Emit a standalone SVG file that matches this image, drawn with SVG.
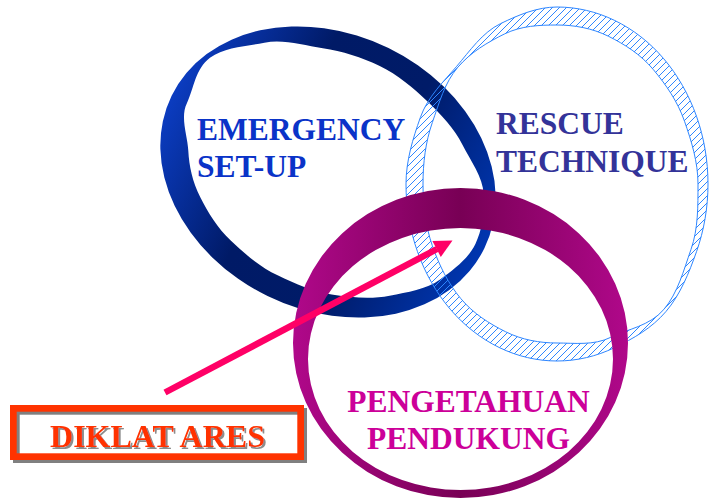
<svg xmlns="http://www.w3.org/2000/svg" width="709" height="502" viewBox="0 0 709 502">
<style>
.lbl{font-family:"Liberation Serif","Times New Roman",serif;font-weight:bold;font-size:31.5px}
</style>
<defs>
<linearGradient id="navyGrad" gradientUnits="userSpaceOnUse" x1="-174" y1="0" x2="174" y2="0">
<stop offset="0" stop-color="#0b3cc0"/>
<stop offset="0.35" stop-color="#001a66"/>
<stop offset="0.65" stop-color="#001b68"/>
<stop offset="1" stop-color="#0036b0"/>
</linearGradient>
<linearGradient id="magGrad" gradientUnits="userSpaceOnUse" x1="293" y1="0" x2="628" y2="0">
<stop offset="0" stop-color="#b0088a"/>
<stop offset="0.5" stop-color="#780055"/>
<stop offset="1" stop-color="#b0088a"/>
</linearGradient>
<pattern id="hatch" patternUnits="userSpaceOnUse" width="7" height="7">
<path d="M0,7 L7,0 M-1,1 L1,-1 M6,8 L8,6" stroke="#2e86ff" stroke-width="1" fill="none" shape-rendering="crispEdges"/>
</pattern>
<filter id="tshadow" x="-10%" y="-20%" width="120%" height="150%">
<feOffset in="SourceAlpha" dx="2" dy="2" result="off"/>
<feFlood flood-color="#8c8c8c"/>
<feComposite in2="off" operator="in" result="shadow"/>
<feMerge><feMergeNode in="shadow"/><feMergeNode in="SourceGraphic"/></feMerge>
</filter>
</defs>

<g id="node-emergency">
<path transform="translate(328,172) rotate(26)" fill="url(#navyGrad)" fill-rule="evenodd" d="M174,0 A174,138 0 1 1 -174,0 A174,138 0 1 1 174,0 Z M164,0 C164,16.81 155.86,32.41 147.82,47.45 C139.78,62.49 123.99,73.09 109.60,84.14 C95.21,95.19 77.11,102.22 58.55,108.10 C39.99,113.98 19.83,115 0,115 C-19.83,115 -38.95,110.08 -57.02,104.40 C-75.09,98.72 -90.29,88.80 -103.94,78.49 C-117.59,68.18 -127.55,55.44 -134.89,42.10 C-142.23,28.76 -157,15.89 -157,0 C-157,-15.89 -164.63,-34.77 -156.14,-50.90 C-147.65,-67.03 -128.79,-76.78 -113.84,-88.39 C-98.89,-100.00 -77.62,-103.09 -58.94,-109.02 C-40.26,-114.95 -20.22,-118 0,-118 C20.22,-118 39.73,-113.00 58.17,-107.17 C76.61,-101.34 94.59,-94.40 108.89,-83.44 C123.19,-72.48 141.53,-63.50 149.67,-48.22 C157.81,-32.94 164,-16.81 164,0 Z"/>
<text class="lbl" x="197" y="140" fill="#0a33c8">EMERGENCY</text>
<text class="lbl" x="197" y="176.7" fill="#0a33c8">SET-UP</text>
</g>

<g id="node-rescue">
<path fill="url(#hatch)" fill-rule="evenodd" stroke="#2e86ff" stroke-width="1" d="M708,184 C708,207.24 704.09,230.23 696.5,251.7 C688.91,273.17 680.2,294.84 665.9,311.6 C651.6,328.36 633.12,338.61 614.8,347.5 C596.48,356.39 576.83,361 557,361 C537.17,361 517.52,356.39 499.2,347.5 C480.88,338.61 464.22,325.64 450.2,309.2 C436.18,292.76 425.09,273.17 417.5,251.7 C409.91,230.23 406,207.24 406,184 C406,160.76 412.87,138.65 420.3,117.6 C427.73,96.55 443.53,81.75 456.7,66.3 C469.87,50.85 482.45,32.42 500.4,23.7 C518.35,14.98 537.17,7 557,7 C576.83,7 596.48,11.61 614.8,20.5 C633.12,29.39 649.78,42.36 663.8,58.8 C677.82,75.24 688.91,94.83 696.5,116.3 C704.09,137.77 708,160.76 708,184 Z M698,184 C698,205.93 698.29,228.65 691.0,249.4 C683.71,270.15 677.82,293.02 663.8,309.5 C649.78,325.98 627.58,329.06 610.6,337.4 C593.62,345.74 574.46,343 557,343 C539.54,343 521.95,339.84 505.7,331.8 C489.45,323.76 473.43,313.65 460.8,298.6 C448.17,283.55 439.09,265.12 432.3,245.6 C425.51,226.08 423,205.01 423,184 C423,162.99 425.51,142.07 432.3,122.6 C439.09,103.13 444.66,82.71 457.7,67.4 C470.74,52.09 487.98,42.07 504.6,33.9 C521.22,25.73 539.54,25 557,25 C574.46,25 592.05,28.16 608.3,36.2 C624.55,44.24 640.57,54.35 653.2,69.4 C665.83,84.45 677.57,101.31 684.5,121.2 C691.43,141.09 698,162.07 698,184 Z"/>
<text class="lbl" x="496" y="134" fill="#333399">RESCUE</text>
<text class="lbl" x="496" y="171.7" fill="#333399">TECHNIQUE</text>
</g>

<g id="node-pengetahuan">
<path fill="url(#magGrad)" fill-rule="evenodd" d="M293,343 A167.5,155 0 1 1 628,343 A167.5,155 0 1 1 293,343 Z M308,359 A152.5,131 0 1 0 613,359 A152.5,131 0 1 0 308,359 Z"/>
<text class="lbl" x="468.5" y="411.7" fill="#cc0099" text-anchor="middle">PENGETAHUAN</text>
<text class="lbl" x="468.5" y="449" fill="#cc0099" text-anchor="middle">PENDUKUNG</text>
</g>

<g id="node-diklat">
<rect x="16.35" y="411.35" width="287.3" height="48.3" fill="none" stroke="#808080" stroke-width="6.7"/>
<rect x="13.35" y="408.35" width="287.3" height="48.3" fill="none" stroke="#ff3300" stroke-width="6.7"/>
<text class="lbl" x="157.5" y="447" style="font-size:32px" fill="#ff3300" text-anchor="middle" filter="url(#tshadow)">DIKLAT ARES</text>
</g>

<g id="connectors">
<line x1="165" y1="392.5" x2="437" y2="249" stroke="#ff0066" stroke-width="6.5"/>
<polygon points="452.5,240.5 432.4,241 440.8,257" fill="#ff0066"/>
</g>
</svg>
